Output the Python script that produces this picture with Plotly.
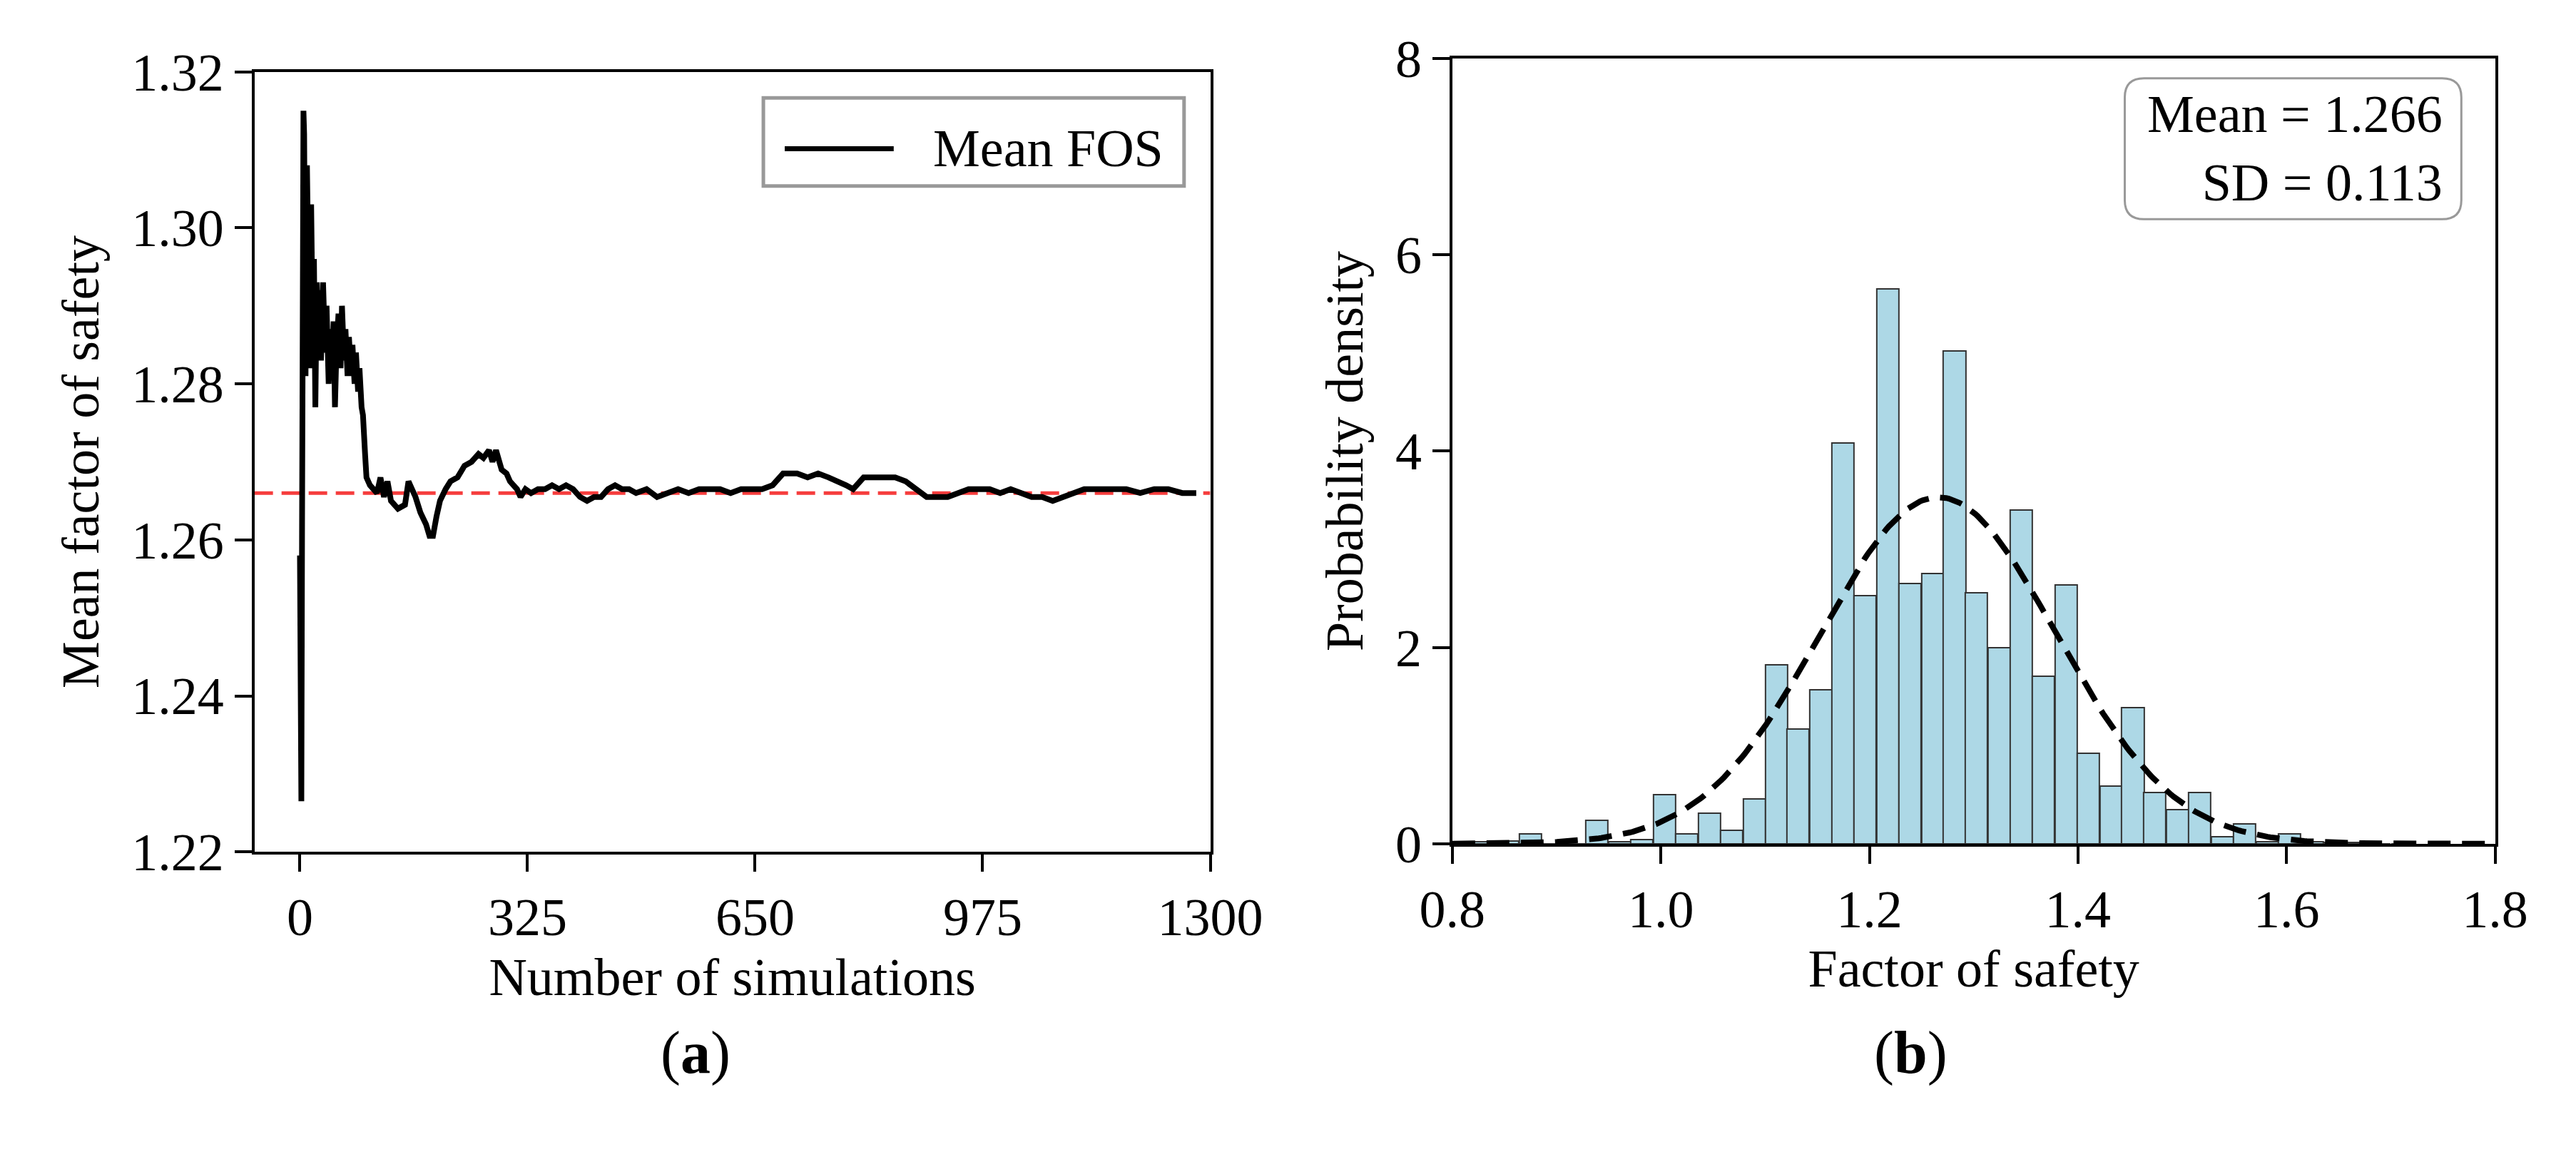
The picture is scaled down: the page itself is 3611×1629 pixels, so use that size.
import numpy as np
import plotly.graph_objects as go

# Left panel: running mean FOS
sim_n = [0,1,2,3,4,5,6,7,8,10,12,14,16,18,20,22,24,26,28,30,33,36,38,41,44,46,48,50,52,55,58,60,63,65,68,70,73,75,78,80,83,85,88,90,93,95,100,105,110,115,120,125,130,140,150,155,160,165,172,180,185,190,195,200,208,215,225,235,245,255,262,270,275,280,288,295,300,305,310,315,322,330,340,350,360,370,380,390,400,410,420,430,440,450,460,470,480,495,510,525,540,555,570,585,600,615,630,645,660,675,690,700,710,725,740,755,770,780,790,805,820,835,850,865,880,895,910,925,940,955,970,985,1000,1015,1030,1045,1060,1075,1090,1105,1120,1135,1150,1165,1180,1200,1220,1240,1260,1280,1300]
mean_fos = [1.258,1.240,1.2265,1.262,1.300,1.315,1.312,1.296,1.281,1.308,1.294,1.282,1.303,1.288,1.296,1.277,1.293,1.285,1.292,1.283,1.293,1.284,1.290,1.280,1.287,1.283,1.288,1.277,1.284,1.289,1.282,1.290,1.283,1.287,1.281,1.286,1.281,1.285,1.280,1.284,1.279,1.282,1.277,1.276,1.271,1.268,1.267,1.2665,1.266,1.268,1.2655,1.2675,1.265,1.264,1.2645,1.2675,1.2665,1.2655,1.2635,1.262,1.2605,1.2605,1.263,1.265,1.2665,1.2675,1.268,1.2695,1.270,1.271,1.2705,1.2715,1.270,1.2715,1.269,1.2685,1.2675,1.267,1.2665,1.2655,1.2665,1.266,1.2665,1.2665,1.267,1.2665,1.267,1.2665,1.2655,1.265,1.2655,1.2655,1.2665,1.267,1.2665,1.2665,1.266,1.2665,1.2655,1.266,1.2665,1.266,1.2665,1.2665,1.2665,1.266,1.2665,1.2665,1.2665,1.267,1.2685,1.2685,1.2685,1.268,1.2685,1.268,1.2675,1.267,1.2665,1.268,1.268,1.268,1.268,1.2675,1.2665,1.2655,1.2655,1.2655,1.266,1.2665,1.2665,1.2665,1.266,1.2665,1.266,1.2655,1.2655,1.265,1.2655,1.266,1.2665,1.2665,1.2665,1.2665,1.2665,1.266,1.2665,1.2665,1.266,1.266]
x_ticks_a = [0,325,650,975,1300]
y_ticks_a = [1.22,1.24,1.26,1.28,1.30,1.32]
mean_ref = 1.266

# Right panel: histogram (density per bin)
bin_left = [0.821,0.842,0.864,0.885,0.907,0.928,0.950,0.971,0.993,1.014,1.036,1.057,1.079,1.100,1.121,1.143,1.164,1.185,1.207,1.228,1.250,1.271,1.292,1.314,1.335,1.356,1.378,1.399,1.421,1.442,1.463,1.485,1.506,1.528,1.549,1.571,1.592,1.614,1.635,1.657,1.678,1.700]
density = [0.02,0.03,0.10,0.0,0.0,0.24,0.02,0.04,0.50,0.10,0.31,0.14,0.46,1.82,1.17,1.57,4.08,2.53,5.65,2.65,2.75,5.02,2.56,2.0,3.40,1.71,2.64,0.92,0.59,1.39,0.52,0.35,0.52,0.07,0.20,0.02,0.10,0.02,0.01,0.01,0.0,0.0]
bin_width = 0.0214
fit_mean = 1.266
fit_sd = 0.113
x_ticks_b = [0.8,1.0,1.2,1.4,1.6,1.8]
y_ticks_b = [0,2,4,6,8]

FONT = "Liberation Serif"
W, H = 3611, 1629
fig = go.Figure()

fig.add_trace(go.Scatter(x=[-65,1300], y=[mean_ref, mean_ref], mode="lines",
                         line=dict(color="rgba(245,40,40,0.9)", width=5, dash="26px,12px"),
                         showlegend=False, xaxis="x", yaxis="y"))
fig.add_trace(go.Scatter(x=sim_n, y=mean_fos, mode="lines", name="Mean FOS",
                         line=dict(color="black", width=8), showlegend=False,
                         xaxis="x", yaxis="y"))

centers = [b + bin_width/2 for b in bin_left]
fig.add_trace(go.Bar(x=centers, y=density, width=bin_width,
                     marker=dict(color="#add8e6", line=dict(color="#333333", width=2)),
                     showlegend=False, xaxis="x2", yaxis="y2"))
xs = np.linspace(0.8, 1.8, 400)
pdf = np.exp(-0.5*((xs-fit_mean)/fit_sd)**2)/(fit_sd*np.sqrt(2*np.pi))
fig.add_trace(go.Scatter(x=xs, y=pdf, mode="lines",
                         line=dict(color="black", width=8, dash="32px,16px"),
                         showlegend=False, xaxis="x2", yaxis="y2"))

ax = dict(showline=True, linecolor="black", linewidth=4, mirror=True, ticks="outside",
          ticklen=24, tickwidth=4, tickcolor="black", showgrid=False, zeroline=False,
          tickfont=dict(family=FONT, size=74, color="black"))
fig.update_layout(
    width=W, height=H, margin=dict(l=0, r=0, t=0, b=0),
    plot_bgcolor="white", paper_bgcolor="white", bargap=0,
    font=dict(family=FONT, color="black"),
    xaxis=dict(ax, domain=[0.0867, 0.4705], range=[-65, 1300], tickvals=x_ticks_a,
               title=dict(text="Number of simulations", font=dict(family=FONT, size=74), standoff=18)),
    yaxis=dict(ax, domain=[0.259, 0.966], range=[1.22, 1.32], tickvals=y_ticks_a,
               tickformat=".2f",
               title=dict(text="Mean factor of safety", font=dict(family=FONT, size=74), standoff=22)),
    xaxis2=dict(ax, domain=[0.5677, 0.9864], range=[0.8, 1.8], tickvals=x_ticks_b,
                tickformat=".1f", anchor="y2",
                title=dict(text="Factor of safety", font=dict(family=FONT, size=74), standoff=18)),
    yaxis2=dict(ax, domain=[0.2664, 0.978], range=[0, 8], tickvals=y_ticks_b, anchor="x2",
                title=dict(text="Probability density", font=dict(family=FONT, size=74), standoff=22)),
)

# legend box (left)
fig.add_shape(type="rect", xref="paper", yref="paper", x0=1051/W, x1=1661/W,
              y0=1-224/H, y1=1-94/H, line=dict(color="#999999", width=5),
              fillcolor="white")
fig.add_shape(type="line", xref="paper", yref="paper", x0=1082/W, x1=1240/W,
              y0=1-169/H, y1=1-169/H, line=dict(color="black", width=7))
fig.add_annotation(xref="paper", yref="paper", x=1295/W, y=1-168/H, text="Mean FOS",
                   showarrow=False, xanchor="left", yanchor="middle",
                   font=dict(family=FONT, size=74, color="black"))

# stats box (right) with rounded corners
x0, x1, y0, y1, r = 3025, 3513, 65, 273, 28
def px(x): return x / W
def py(y): return 1 - y / H
path = (f"M {px(x0+r)} {py(y0)} L {px(x1-r)} {py(y0)} Q {px(x1)} {py(y0)} {px(x1)} {py(y0+r)} "
        f"L {px(x1)} {py(y1-r)} Q {px(x1)} {py(y1)} {px(x1-r)} {py(y1)} "
        f"L {px(x0+r)} {py(y1)} Q {px(x0)} {py(y1)} {px(x0)} {py(y1-r)} "
        f"L {px(x0)} {py(y0+r)} Q {px(x0)} {py(y0)} {px(x0+r)} {py(y0)} Z")
fig.add_shape(type="path", xref="paper", yref="paper", path=path,
              line=dict(color="#999999", width=3), fillcolor="white")
fig.add_annotation(xref="paper", yref="paper", x=3488/W, y=1-169/H,
                   text="Mean = 1.266<br>SD = 0.113", showarrow=False, align="right",
                   xanchor="right", yanchor="middle",
                   font=dict(family=FONT, size=74, color="black"))

fig.add_annotation(xref="paper", yref="paper", x=900/W, y=1-1555/H, text="(<b>a</b>)",
                   showarrow=False, font=dict(family=FONT, size=84, color="black"))
fig.add_annotation(xref="paper", yref="paper", x=2770/W, y=1-1555/H, text="(<b>b</b>)",
                   showarrow=False, font=dict(family=FONT, size=84, color="black"))

fig.write_html("out.html")
